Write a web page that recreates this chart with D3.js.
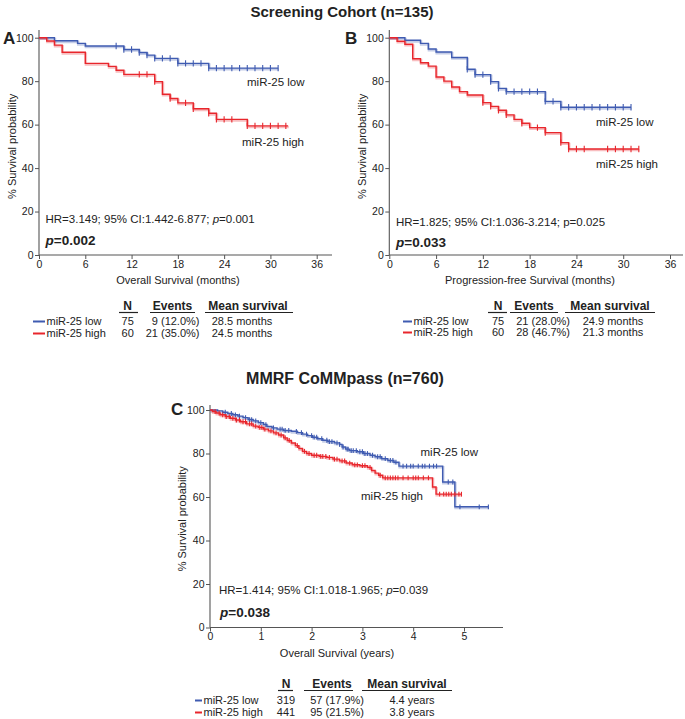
<!DOCTYPE html>
<html><head><meta charset="utf-8">
<script src="https://cdn.jsdelivr.net/npm/d3@7"></script>
<style>
body{margin:0;background:#fff}
svg{display:block}
text{font-family:"Liberation Sans",Arial,Helvetica,sans-serif;fill:#222}
</style>
</head><body>
<svg id="c" width="685" height="719"></svg>
<script>
// ---------------- DATA ----------------
const monthTicks = [0, 6, 12, 18, 24, 30, 36];
const yearTicks = [0, 1, 2, 3, 4, 5];
const pctTicks = [0, 20, 40, 60, 80, 100];
const groups = ["miR-25 low", "miR-25 high"];

// Panel A: Overall survival (months), screening cohort
const aLowSteps = [[0,100],[2,98.6],[5,97.4],[6,96.2],[11,94.6],[13,93.2],[14,92.0],[15,90.5],[18,88.2],[22,86.0]];
const aLowEnd = 31;
const aLowCens = [10,11,12,13,14,15,16,17,18,19,20,21,22,23,24,25,26,27,28,29,30,31];
const aHighSteps = [[0,100],[1,98.5],[2,96.6],[3,93.3],[6,88.2],[9,86.8],[10,85.0],[11,83.1],[15,79.8],[16,74.0],[17,72.0],[18,70.0],[20,67.3],[22,65.2],[23,62.4],[27,59.4]];
const aHighEnd = 32.3;
const aHighCens = [13,14,15,17,19,20,22,23,24,25,27,28,29,30,31,32];

// Panel B: Progression-free survival (months)
const bLowSteps = [[0,100],[2,98.8],[4,97.4],[5,94.8],[6,93.4],[8,90.9],[10,85.5],[11,83.0],[13,79.8],[14,76.7],[15,75.2],[20,70.7],[22,68.0]];
const bLowEnd = 31;
const bLowCens = [10,11,12,13,14,15,16,17,18,19,20,21,22,23,24,25,26,27,28,29,30,31];
const bHighSteps = [[0,100],[1,98.4],[2,97.0],[3,90.3],[4,88.5],[5,86.9],[6,81.9],[7,80.0],[8,77.3],[9,75.2],[10,73.6],[12,70.1],[13,68.4],[14,66.6],[15,64.5],[16,62.4],[17,60.6],[18,58.6],[20,56.3],[22,51.7],[23,48.8]];
const bHighEnd = 32;
const bHighCens = [12,13,14,15,17,19,20,22,23,24,25,28,29,30,31,32];

// Panel C: MMRF CoMMpass overall survival (years)
const cLowSteps = [[0,100],[0.15,99.6],[0.25,99.0],[0.35,98.4],[0.45,97.8],[0.55,97.2],[0.65,96.5],[0.75,95.6],[0.85,95.0],[0.95,94.2],[1.05,93.3],[1.12,92.4],[1.22,91.8],[1.32,91.2],[1.45,90.6],[1.6,90.2],[1.72,89.6],[1.82,88.9],[1.92,88.2],[2.02,87.5],[2.12,86.8],[2.22,86.1],[2.32,85.5],[2.45,84.9],[2.55,84.2],[2.6,83.0],[2.67,82.0],[2.75,81.3],[2.9,80.8],[3.02,80.0],[3.15,79.2],[3.25,78.5],[3.38,77.6],[3.5,76.8],[3.62,76.0],[3.72,74.2],[4.58,66.9],[4.82,55.5]];
const cLowEnd = 5.48;
const cLowCens = [0.3,0.42,0.5,0.58,0.7,0.78,0.82,0.9,1.0,1.1,1.25,1.38,1.42,1.48,1.55,1.7,1.8,1.9,2.0,2.05,2.1,2.2,2.3,2.35,2.4,2.5,2.55,2.62,2.7,2.72,2.78,2.82,2.88,2.95,3.0,3.05,3.1,3.2,3.3,3.35,3.45,3.55,3.6,3.66,3.8,3.87,3.95,4.0,4.1,4.18,4.23,4.32,4.4,4.46,4.69,4.78,4.92,5.3,5.48];
const cHighSteps = [[0,100],[0.05,99.3],[0.12,98.6],[0.2,97.8],[0.3,97.0],[0.4,96.2],[0.5,95.4],[0.6,94.6],[0.72,93.6],[0.85,92.6],[0.95,92.0],[1.05,91.2],[1.15,90.4],[1.25,89.5],[1.35,88.5],[1.45,87.2],[1.52,86.0],[1.6,84.8],[1.68,83.6],[1.75,82.3],[1.82,81.0],[1.9,80.0],[2.0,79.2],[2.15,78.7],[2.3,78.2],[2.42,77.4],[2.55,76.6],[2.68,75.6],[2.8,74.8],[2.95,74.4],[3.1,73.6],[3.18,72.2],[3.25,71.0],[3.32,70.0],[3.4,68.8],[4.38,64.6],[4.45,61.3]];
const cHighEnd = 4.95;
const cHighCens = [0.1,0.18,0.25,0.32,0.38,0.45,0.52,0.58,0.65,0.7,0.78,0.82,0.9,0.98,1.02,1.08,1.2,1.3,1.4,1.48,1.56,1.72,1.86,1.95,2.05,2.1,2.18,2.22,2.28,2.35,2.45,2.5,2.6,2.65,2.75,2.85,2.9,3.0,3.05,3.15,3.35,3.45,3.5,3.55,3.6,3.65,3.7,3.8,3.9,4.0,4.05,4.1,4.2,4.3,4.52,4.6,4.65,4.7,4.75,4.82,4.9,4.95];

// Summary tables
const tableHeaders = ["N", "Events", "Mean survival"];
const aN = [75, 60];
const aEvents = ["9 (12.0%)", "21 (35.0%)"];
const aMean = ["28.5 months", "24.5 months"];
const bN = [75, 60];
const bEvents = ["21 (28.0%)", "28 (46.7%)"];
const bMean = ["24.9 months", "21.3 months"];
const cN = [319, 441];
const cEvents = ["57 (17.9%)", "95 (21.5%)"];
const cMean = ["4.4 years", "3.8 years"];

// ---------------- DRAWING ----------------
const BLUE = "#3f5bb1", RED = "#e8262c", AX = "#555";
const svg = d3.select("#c");
const FONT = '"Liberation Sans",Arial,Helvetica,sans-serif';

function txt(x, y, s, size, opts = {}) {
  const t = svg.append("text").attr("x", x).attr("y", y)
    .style("font-size", size + "px")
    .attr("text-anchor", opts.anchor || "start");
  if (opts.bold) t.style("font-weight", "bold");
  if (opts.rotate) t.attr("transform", `rotate(${opts.rotate},${x},${y})`);
  return t.text(s);
}

function valueAt(steps, t) {
  let v = steps[0][1];
  for (const s of steps) if (s[0] <= t + 1e-9) v = s[1];
  return v;
}

function drawCurve(x, y, steps, end, cens, color, ch, sw) {
  const pts = steps.concat([[end, steps[steps.length - 1][1]]]);
  const line = d3.line().x(d => x(d[0])).y(d => y(d[1])).curve(d3.curveStepAfter);
  svg.append("path").attr("d", line(pts)).attr("fill", "none")
    .attr("stroke", color).attr("stroke-opacity", 0.3).attr("stroke-width", sw + 1)
    .attr("transform", "translate(0.6,1.2)");
  svg.append("path").attr("d", line(pts)).attr("fill", "none")
    .attr("stroke", color).attr("stroke-width", sw);
  svg.append("g").selectAll("line").data(cens).join("line")
    .attr("x1", d => x(d)).attr("x2", d => x(d))
    .attr("y1", d => y(valueAt(steps, d)) - ch)
    .attr("y2", d => y(valueAt(steps, d)) + ch)
    .attr("stroke", color).attr("stroke-width", 1.1);
}

function panel(cfg) {
  const x = d3.scaleLinear().domain(cfg.xDomain).range(cfg.xRange);
  const y = d3.scaleLinear().domain([0, 100]).range(cfg.yRange);
  // y axis
  const gy = svg.append("g").attr("transform", `translate(${cfg.xRange[0]},0)`)
    .call(d3.axisLeft(y).tickValues(pctTicks).tickFormat(d3.format("d")).tickSize(4).tickSizeOuter(0).tickPadding(1.5));
  gy.select(".domain").remove();
  gy.selectAll("line").attr("stroke", AX);
  gy.selectAll("text").style("font-size", "10.5px").style("font-family", FONT).attr("fill", "#333");
  svg.append("line").attr("x1", cfg.xRange[0]).attr("x2", cfg.xRange[0])
    .attr("y1", cfg.yTop).attr("y2", cfg.yRange[0]).attr("stroke", AX).attr("stroke-width", 1.1);
  // x axis
  const gx = svg.append("g").attr("transform", `translate(0,${cfg.yRange[0]})`)
    .call(d3.axisBottom(x).tickValues(cfg.xTicks).tickFormat(d3.format("d")).tickSize(4).tickSizeOuter(0).tickPadding(1.5));
  gx.select(".domain").remove();
  gx.selectAll("line").attr("stroke", AX);
  gx.selectAll("text").style("font-size", "10.5px").style("font-family", FONT).attr("fill", "#333");
  svg.append("line").attr("x1", cfg.xRange[0]).attr("x2", cfg.xEnd)
    .attr("y1", cfg.yRange[0]).attr("y2", cfg.yRange[0]).attr("stroke", AX).attr("stroke-width", 1.1);
  // axis titles
  txt(cfg.xTitleX, cfg.xTitleY, cfg.xTitle, 11, { anchor: "middle" });
  txt(cfg.yTitleX, (cfg.yRange[0] + cfg.yRange[1]) / 2, "% Survival probability", 11, { anchor: "middle", rotate: -90 });
  // curves
  drawCurve(x, y, cfg.low[0], cfg.low[1], cfg.low[2], BLUE, cfg.ch, 1.4);
  drawCurve(x, y, cfg.high[0], cfg.high[1], cfg.high[2], RED, cfg.ch, 1.4);
  return { x, y };
}

function hrText(x, y, parts, size) {
  const t = svg.append("text").attr("x", x).attr("y", y).style("font-size", size + "px");
  parts.forEach(p => {
    const s = t.append("tspan").text(p[0]);
    if (p[1]) s.style("font-style", "italic");
    if (p[2]) s.style("font-weight", "bold");
  });
}

function table(cfg) {
  tableHeaders.forEach((h, i) => {
    txt(cfg.hx[i], cfg.hy, h, 12, { anchor: "middle", bold: true });
    svg.append("line").attr("x1", cfg.ul[i][0]).attr("x2", cfg.ul[i][1])
      .attr("y1", cfg.hy + 2.5).attr("y2", cfg.hy + 2.5).attr("stroke", "#222").attr("stroke-width", 1.2);
  });
  [BLUE, RED].forEach((c, r) => {
    const yy = cfg.rows[r];
    svg.append("line").attr("x1", cfg.lx[0]).attr("x2", cfg.lx[1])
      .attr("y1", yy - 3.5).attr("y2", yy - 3.5).attr("stroke", c).attr("stroke-width", 2);
    txt(cfg.lx[1] + 1.5, yy, groups[r], 11);
    txt(cfg.nx, yy, cfg.n[r], 11, { anchor: "middle" });
    txt(cfg.ex, yy, cfg.ev[r], 11, { anchor: "end" });
    txt(cfg.mx, yy, cfg.mean[r], 11, { anchor: "middle" });
  });
}

// Titles
txt(342, 17, "Screening Cohort (n=135)", 15, { anchor: "middle", bold: true });
txt(345, 384, "MMRF CoMMpass (n=760)", 16, { anchor: "middle", bold: true });

// Panel A
panel({
  xDomain: [0, 36], xRange: [39, 316.7], xEnd: 332, yRange: [255, 37.7], yTop: 30,
  xTicks: monthTicks, xTitle: "Overall Survival (months)", xTitleX: 178, xTitleY: 284, yTitleX: 16,
  low: [aLowSteps, aLowEnd, aLowCens], high: [aHighSteps, aHighEnd, aHighCens], ch: 3.2
});
txt(3, 44, "A", 17, { bold: true });
txt(247, 86, "miR-25 low", 11.5);
txt(242, 146, "miR-25 high", 11.5);
hrText(45.5, 223, [["HR=3.149; 95% CI:1.442-6.877; "], ["p", true], ["=0.001"]], 11.5);
hrText(45.5, 245, [["p", true, true], ["=0.002", false, true]], 13.5);

// Panel B
panel({
  xDomain: [0, 36], xRange: [389.3, 670], xEnd: 683, yRange: [255, 37.7], yTop: 30,
  xTicks: monthTicks, xTitle: "Progression-free Survival (months)", xTitleX: 530, xTitleY: 284, yTitleX: 366,
  low: [bLowSteps, bLowEnd, bLowCens], high: [bHighSteps, bHighEnd, bHighCens], ch: 3.2
});
txt(345, 44, "B", 17, { bold: true });
txt(596, 126, "miR-25 low", 11.5);
txt(596, 168, "miR-25 high", 11.5);
hrText(396, 226, [["HR=1.825; 95% CI:1.036-3.214; p=0.025"]], 11.5);
hrText(396, 247, [["p", true, true], ["=0.033", false, true]], 13.5);

// Panel C
panel({
  xDomain: [0, 5], xRange: [210, 464], xEnd: 503, yRange: [627.5, 410], yTop: 405,
  xTicks: yearTicks, xTitle: "Overall Survival (years)", xTitleX: 337, xTitleY: 657, yTitleX: 186,
  low: [cLowSteps, cLowEnd, cLowCens], high: [cHighSteps, cHighEnd, cHighCens], ch: 2.4
});
txt(171, 415, "C", 17, { bold: true });
txt(420.5, 456, "miR-25 low", 11.5);
txt(361, 500, "miR-25 high", 11.5);
hrText(219, 594, [["HR=1.414; 95% CI:1.018-1.965; "], ["p", true], ["=0.039"]], 11.5);
hrText(220, 617, [["p", true, true], ["=0.038", false, true]], 13.5);

// Tables
table({ hx: [127.7, 172.5, 248], hy: 310, ul: [[119, 138], [150, 195], [205, 293]],
  rows: [325, 337], lx: [33, 45], nx: 127.7, ex: 199.5, mx: 242, n: aN, ev: aEvents, mean: aMean });
table({ hx: [498, 534, 610], hy: 310, ul: [[488, 507], [510, 558], [565, 655]],
  rows: [325, 336], lx: [403, 412], nx: 498, ex: 570, mx: 613, n: bN, ev: bEvents, mean: bMean });
table({ hx: [286, 332, 407], hy: 688, ul: [[278, 293], [304, 353], [362, 452]],
  rows: [704, 716], lx: [195, 202], nx: 286, ex: 364, mx: 412, n: cN, ev: cEvents, mean: cMean });
</script>
</body></html>
